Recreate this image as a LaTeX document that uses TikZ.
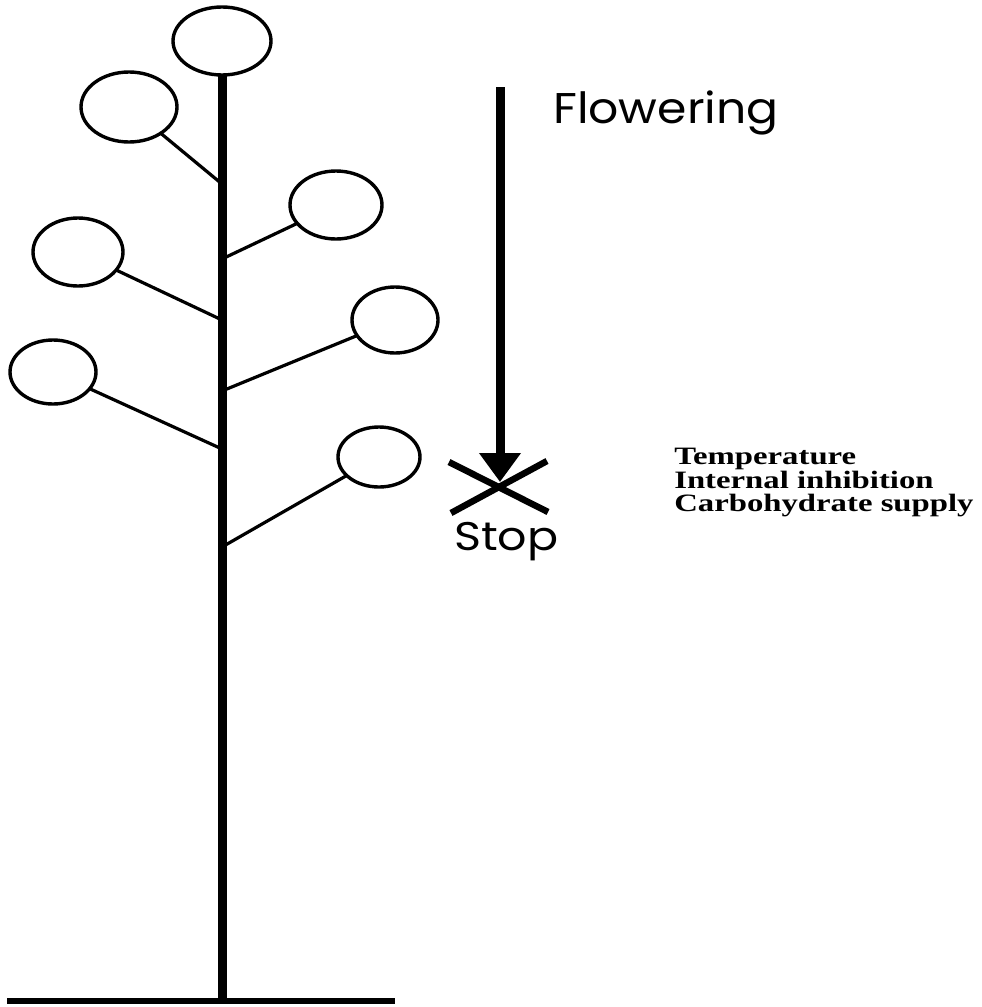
\documentclass[tikz,border=0pt]{standalone}
\usepackage{fontspec}
\setmainfont{Liberation Serif}
\newfontfamily\gothic{Poppins}
\usetikzlibrary{shapes.geometric,arrows.meta}
\tikzset{
  bud/.style={ellipse, draw, line width=3.4pt, inner sep=0pt, outer sep=0pt},
  branch/.style={line width=3.2pt},
  stem/.style={line width=9pt},
  ground/.style={line width=6pt},
  crossbar/.style={line width=6.5pt},
  gothiclabel/.style={font=\gothic\fontsize{43}{43}\selectfont, anchor=base west, inner sep=0pt},
  factor/.style={font=\bfseries\fontsize{25}{23.5}\selectfont, align=left, anchor=north west, inner sep=0pt, xscale=1.31}
}
\begin{document}
\begin{tikzpicture}[x=1pt,y=-1pt]
\useasboundingbox (0,0) rectangle (982,1007);
% buds
\node[bud, minimum width=98pt, minimum height=68pt] (e1) at (222,41) {};
\node[bud, minimum width=96pt, minimum height=70pt] (e2) at (129,107) {};
\node[bud, minimum width=92pt, minimum height=68pt] (e3) at (336,205) {};
\node[bud, minimum width=90pt, minimum height=68pt] (e4) at (78,252) {};
\node[bud, minimum width=86pt, minimum height=66pt] (e5) at (395,320) {};
\node[bud, minimum width=86pt, minimum height=64pt] (e6) at (53,372) {};
\node[bud, minimum width=82pt, minimum height=60pt] (e7) at (379,457) {};
% stem and ground
\coordinate (base) at (222,1001);
\coordinate (g1) at (7,1001);
\coordinate (g2) at (395,1001);
\draw[stem] (e1.south) -- (base);
\draw[ground] (g1) -- (g2);
% junctions
\coordinate (j2) at (222,184);
\coordinate (j3) at (222,259);
\coordinate (j4) at (222,320);
\coordinate (j5) at (222,391);
\coordinate (j6) at (222,449);
\coordinate (j7) at (222,547);
\draw[branch] (e2) -- (j2);
\draw[branch] (e3) -- (j3);
\draw[branch] (e4) -- (j4);
\draw[branch] (e5) -- (j5);
\draw[branch] (e6) -- (j6);
\draw[branch] (e7) -- (j7);
% flowering arrow
\coordinate (atop) at (500,87);
\coordinate (atip) at (500,482);
\draw[line width=9pt, -{Triangle[length=29pt,width=40pt]}] (atop) -- (atip);
\node[gothiclabel, xscale=1.1] (flow) at (553,123) {Flowering};
% stop cross
\coordinate (x1) at (449,462);
\coordinate (x2) at (548,512);
\coordinate (x3) at (547,461);
\coordinate (x4) at (451,513);
\draw[crossbar] (x1) -- (x2);
\draw[crossbar] (x3) -- (x4);
\node[gothiclabel, font=\gothic\fontsize{40}{40}\selectfont, xscale=1.15] (stop) at (454,550) {Stop};
% factors
\node[factor] (factors) at (674,448) {Temperature\\Internal inhibition\\Carbohydrate supply};
\end{tikzpicture}
\end{document}
